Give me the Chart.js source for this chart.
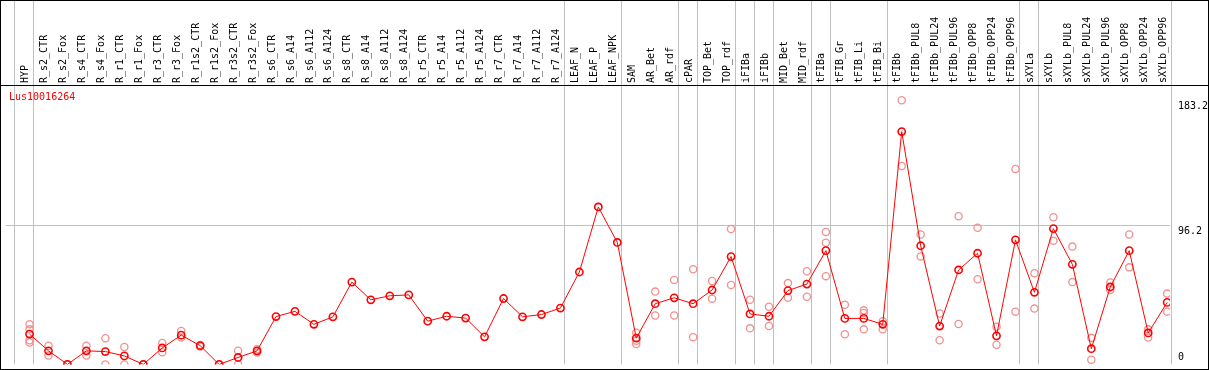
<!DOCTYPE html>
<html>
<head>
<meta charset="utf-8">
<script src="https://cdn.jsdelivr.net/npm/chart.js@4/dist/chart.umd.min.js"></script>
<style>
  html, body { margin: 0; padding: 0; background: #fff; }
  canvas { display: block; }
</style>
</head>
<body>
<canvas id="chart" width="1209" height="370"></canvas>
<script>
// Sample names (x categories)
const categories = [
    'HYP', 'R_s2_CTR', 'R_s2_Fox', 'R_s4_CTR', 'R_s4_Fox', 'R_r1_CTR', 'R_r1_Fox',
    'R_r3_CTR', 'R_r3_Fox', 'R_r1s2_CTR', 'R_r1s2_Fox', 'R_r3s2_CTR', 'R_r3s2_Fox',
    'R_s6_CTR', 'R_s6_A14', 'R_s6_A112', 'R_s6_A124', 'R_s8_CTR', 'R_s8_A14',
    'R_s8_A112', 'R_s8_A124', 'R_r5_CTR', 'R_r5_A14', 'R_r5_A112', 'R_r5_A124',
    'R_r7_CTR', 'R_r7_A14', 'R_r7_A112', 'R_r7_A124', 'LEAF_N', 'LEAF_P', 'LEAF_NPK',
    'SAM', 'AR_Bet', 'AR_rdf', 'cPAR', 'TOP_Bet', 'TOP_rdf', 'iFIBa', 'iFIBb',
    'MID_Bet', 'MID_rdf', 'tFIBa', 'tFIB_Gr', 'tFIB_Li', 'tFIB_Bi', 'tFIBb',
    'tFIBb_PUL8', 'tFIBb_PUL24', 'tFIBb_PUL96', 'tFIBb_OPP8', 'tFIBb_OPP24', 'tFIBb_OPP96',
    'sXYLa', 'sXYLb', 'sXYLb_PUL8', 'sXYLb_PUL24', 'sXYLb_PUL96', 'sXYLb_OPP8',
    'sXYLb_OPP24', 'sXYLb_OPP96'
];

// Mean expression per sample
const means = [
    21.0, 9.4, 0, 9.4, 8.9, 5.9, 0, 11.4, 20.3, 13.0, 0, 4.8, 9.4,
    33.2, 36.8, 27.8, 33.0, 57.1, 44.8, 47.6, 48.2, 30.0, 33.4, 32.1, 19.1,
    45.7, 33.0, 34.6, 39.1, 64.1, 109.2, 84.6,
    18.2, 42.1, 46.2, 42.1, 51.6, 74.8, 35.0, 33.4, 51.2, 55.7, 78.9,
    31.9, 31.9, 27.8, 161.5,
    82.3, 26.6, 65.5, 77.1, 19.8, 86.4,
    50.0, 94.2, 69.4, 10.9, 53.7, 78.9, 21.8, 43.0
];

// Individual replicates per sample
const replicates = [
    [27.8, 24.3, 16.8, 15.2], [13.0, 6.1], [0, 0], [13.0, 6.1], [18.2, 0], [12.1, 0], [0, 0],
    [14.8, 8.4], [23.2, 18.6], [13.5, 12.5], [0, 0], [9.5, 0], [10.5, 8.2],
    [], [], [], [], [], [], [], [], [], [], [], [],
    [], [], [], [], [], [], [],
    [22.0, 16.4, 14.1], [50.5, 33.9], [58.5, 33.9], [66.0, 18.9], [57.8, 45.5], [93.9, 55.1],
    [44.8, 25.0], [40.0, 26.6], [56.4, 46.2], [64.6, 46.9], [91.9, 84.4, 61.2],
    [41.4, 20.9], [37.5, 35.7, 24.3], [30.0, 24.3], [183.2, 137.6],
    [90.1, 74.8], [35.3, 16.8], [102.8, 28.0], [94.8, 59.1], [26.1, 13.6], [135.6, 36.6],
    [63.2, 38.7], [102.1, 85.8], [81.7, 57.1], [18.4, 3.2], [56.8, 51.6], [90.1, 67.3],
    [24.3, 18.6], [49.1, 36.6]
];

// Last sample of each group (a separator is drawn after it)
const groupEnds = [
    'HYP', 'R_r7_A124', 'LEAF_NPK', 'AR_rdf', 'cPAR', 'TOP_rdf', 'iFIBa', 'iFIBb',
    'MID_rdf', 'tFIBa', 'tFIB_Bi', 'tFIBb_OPP96', 'sXYLa', 'sXYLb_OPP96'
];

const yLabels = [0, 96.2, 183.2];
const yGridValues = [96.2];
const geneName = 'Lus10016264';

const FONT = '10px "DejaVu Sans Mono", monospace';

const meanPoints = means.map((v, i) => ({ x: i, y: v }));
const repPoints = replicates.flatMap((r, i) => r.map(v => ({ x: i, y: v })));

// Frame, separators, gene name and value labels
const decorations = {
    id: 'decorations',
    beforeDatasetsDraw(chart) {
        const { ctx } = chart;
        const xs = chart.scales.x;
        ctx.save();
        ctx.strokeStyle = '#c0c0c0';
        ctx.lineWidth = 1;
        const seps = [-1].concat(groupEnds.map(n => categories.indexOf(n)));
        seps.forEach(i => {
            const px = Math.round(xs.getPixelForValue(i + 0.2)) + 0.5;
            ctx.beginPath();
            ctx.moveTo(px, 0);
            ctx.lineTo(px, chart.chartArea.bottom);
            ctx.stroke();
        });
        ctx.restore();
    },
    afterDraw(chart) {
        const { ctx, width, height, chartArea } = chart;
        const ys = chart.scales.y;
        ctx.save();
        ctx.strokeStyle = '#000';
        ctx.lineWidth = 1;
        ctx.strokeRect(0.5, 0.5, width - 1, height - 1);
        ctx.beginPath();
        ctx.moveTo(0, chartArea.top + 0.5);
        ctx.lineTo(width, chartArea.top + 0.5);
        ctx.stroke();

        ctx.font = FONT;
        ctx.fillStyle = '#ff0000';
        ctx.textAlign = 'left';
        ctx.textBaseline = 'top';
        ctx.fillText(geneName, 9, chartArea.top + 7);

        ctx.fillStyle = '#000';
        yLabels.forEach(v => {
            let py = ys.getPixelForValue(v) + 1;
            py = Math.min(py, chartArea.bottom - 12);
            ctx.fillText(String(v), chartArea.right + 8, py);
        });
        ctx.restore();
    }
};

new Chart(document.getElementById('chart'), {
    type: 'line',
    data: {
        datasets: [
            {
                data: meanPoints,
                borderColor: '#ff0000',
                borderWidth: 1,
                pointStyle: 'circle',
                pointRadius: 3.6,
                pointBorderWidth: 1.6,
                pointBorderColor: '#ff0000',
                pointBackgroundColor: 'rgba(0,0,0,0)',
                fill: false,
                tension: 0,
            },
            {
                data: repPoints,
                showLine: false,
                pointStyle: 'circle',
                pointRadius: 3.6,
                pointBorderWidth: 1.3,
                pointBorderColor: '#f09090',
                pointBackgroundColor: 'rgba(0,0,0,0)',
            },
        ],
    },
    options: {
        responsive: false,
        animation: false,
        layout: { padding: { left: 2, right: 0, top: 0, bottom: 1 } },
        plugins: {
            legend: { display: false },
            tooltip: { enabled: false },
            title: { display: false },
        },
        scales: {
            x: {
                type: 'linear',
                position: 'top',
                min: -1.262,
                max: 60.15,
                afterBuildTicks: s => { s.ticks = categories.map((c, i) => ({ value: i })); },
                afterFit: s => { s.height = 85; },
                grid: { display: false, drawTicks: false },
                border: { display: false },
                ticks: {
                    autoSkip: false,
                    minRotation: 90,
                    maxRotation: 90,
                    padding: 2,
                    labelOffset: 8,
                    color: '#000',
                    font: { family: '"DejaVu Sans Mono", monospace', size: 10 },
                    callback: v => categories[v],
                },
            },
            y: {
                type: 'linear',
                position: 'right',
                min: 0,
                max: 193.8,
                afterBuildTicks: s => { s.ticks = yGridValues.map(v => ({ value: v })); },
                afterFit: s => { s.width = 39; },
                grid: { color: '#c0c0c0', drawTicks: false },
                border: { display: false },
                ticks: { display: false },
            },
        },
    },
    plugins: [decorations],
});
</script>
</body>
</html>
